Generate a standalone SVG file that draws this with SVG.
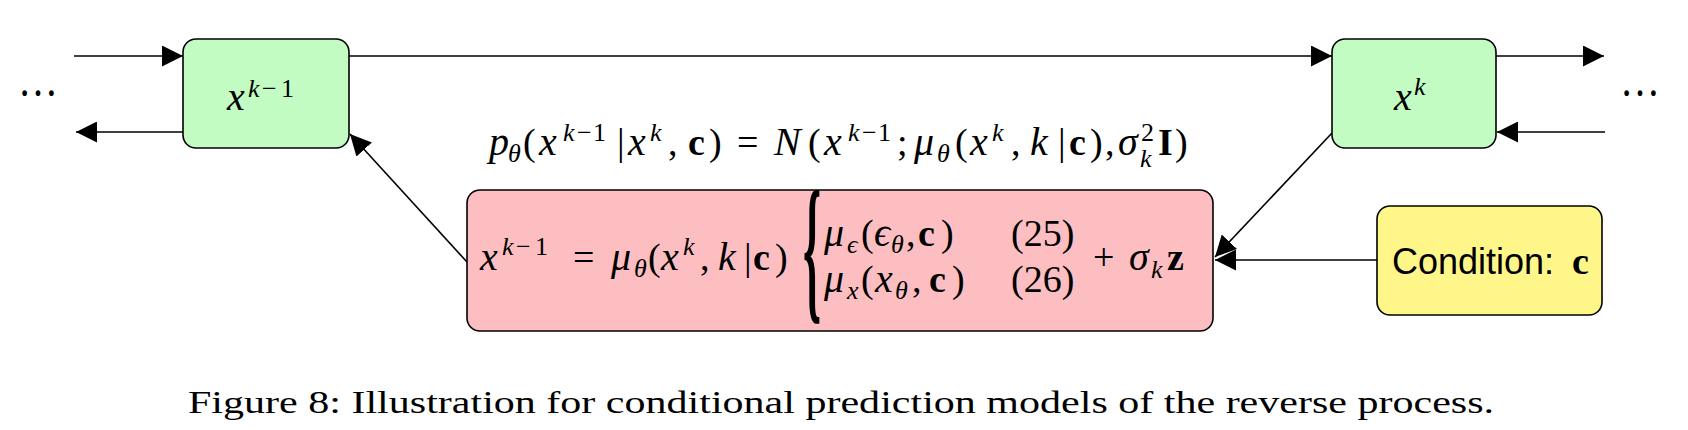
<svg xmlns="http://www.w3.org/2000/svg" width="1688" height="430" viewBox="0 0 1688 430">
<defs>
<marker id="ah" markerUnits="userSpaceOnUse" markerWidth="21" markerHeight="21" viewBox="0 0 21 21" refX="21" refY="10.5" orient="auto">
<path d="M0,0 L21,10.5 L0,21 Z" fill="#000"/>
</marker>
<style>
.box{stroke:#000;stroke-width:1.6}
.g{fill:#c2fcc2}
.p{fill:#fdbec2}
.y{fill:#fff68a}
.c line{stroke:#000;stroke-width:1.6;marker-end:url(#ah)}
text{fill:#000}
.m{font-family:"Liberation Serif","DejaVu Serif",serif;font-style:italic;font-size:40px}
.r{font-style:normal;font-size:38px}
.b{font-style:normal;font-weight:bold;font-size:38px}
.s{font-size:26px}
.sans{font-family:"Liberation Sans",Arial,sans-serif;font-size:36px}
.cap{font-family:"Liberation Serif",serif;font-size:32px}
</style>
</defs>
<rect width="1688" height="430" fill="#fff"/>

<g id="connectors" class="c">
<line x1="74" y1="56" x2="183" y2="56"/>
<line x1="183" y1="132" x2="76" y2="132"/>
<line x1="349" y1="56" x2="1332" y2="56"/>
<line x1="1496" y1="56" x2="1604" y2="56"/>
<line x1="1605" y1="132" x2="1497" y2="132"/>
<line x1="467" y1="262" x2="350" y2="134"/>
<line x1="1332" y1="133" x2="1215" y2="257"/>
<line x1="1377" y1="260" x2="1215" y2="260"/>
</g>

<g id="dots-left"><text class="m r" x="18" y="96" style="font-size:48px" textLength="40" lengthAdjust="spacingAndGlyphs">…</text></g>
<g id="dots-right"><text class="m r" x="1620" y="96" style="font-size:48px" textLength="40" lengthAdjust="spacingAndGlyphs">…</text></g>

<g id="node-xk1">
<rect class="box g" x="183" y="39" width="166" height="109" rx="13"/>
<text class="m"><tspan x="227" y="110">x</tspan><tspan class="s" x="248" y="97">k</tspan><tspan class="s r" x="262" y="97">−</tspan><tspan class="s r" x="281" y="97">1</tspan></text>
</g>

<g id="node-xk">
<rect class="box g" x="1332" y="39" width="164" height="109" rx="13"/>
<text class="m"><tspan x="1394" y="110">x</tspan><tspan class="s" x="1414" y="95">k</tspan></text>
</g>

<g id="label-p">
<text class="m"><tspan x="489" y="155">p</tspan><tspan class="s" x="508" y="162">θ</tspan><tspan class="r" x="523" y="155">(</tspan><tspan x="539" y="155">x</tspan><tspan class="s" x="563" y="141">k</tspan><tspan class="s r" x="577" y="141">−</tspan><tspan class="s r" x="593" y="141">1</tspan><tspan class="r" x="617" y="155">|</tspan><tspan x="628" y="155">x</tspan><tspan class="s" x="650" y="141">k</tspan><tspan class="r" x="668" y="155">,</tspan><tspan class="b" x="688" y="155">c</tspan><tspan class="r" x="709" y="155">)</tspan><tspan class="r" x="737" y="155">=</tspan><tspan x="774" y="155">N</tspan><tspan class="r" x="808" y="155">(</tspan><tspan x="824" y="155">x</tspan><tspan class="s" x="848" y="141">k</tspan><tspan class="s r" x="862" y="141">−</tspan><tspan class="s r" x="878" y="141">1</tspan><tspan class="r" x="897" y="155">;</tspan><tspan x="914" y="155">μ</tspan><tspan class="s" x="937" y="162">θ</tspan><tspan class="r" x="955" y="155">(</tspan><tspan x="970" y="155">x</tspan><tspan class="s" x="992" y="141">k</tspan><tspan class="r" x="1011" y="155">,</tspan><tspan x="1030" y="155">k</tspan><tspan class="r" x="1058" y="155">|</tspan><tspan class="b" x="1069" y="155">c</tspan><tspan class="r" x="1090" y="155">)</tspan><tspan class="r" x="1105" y="155">,</tspan><tspan x="1118" y="155">σ</tspan><tspan class="s r" x="1141" y="141">2</tspan><tspan class="s" x="1140" y="167">k</tspan><tspan class="b" x="1158" y="155">I</tspan><tspan class="r" x="1175" y="155">)</tspan></text>
</g>

<g id="node-update">
<rect class="box p" x="467" y="190" width="746" height="141" rx="13"/>
<text class="m"><tspan x="480" y="270">x</tspan><tspan class="s" x="502" y="255">k</tspan><tspan class="s r" x="516" y="255">−</tspan><tspan class="s r" x="535" y="255">1</tspan><tspan class="r" x="573" y="270">=</tspan><tspan x="611" y="270">μ</tspan><tspan class="s" x="634" y="277">θ</tspan><tspan class="r" x="648" y="270">(</tspan><tspan x="661" y="270">x</tspan><tspan class="s" x="683" y="255">k</tspan><tspan class="r" x="700" y="270">,</tspan><tspan x="718" y="270">k</tspan><tspan class="r" x="744" y="270">|</tspan><tspan class="b" x="753" y="270">c</tspan><tspan class="r" x="775" y="270">)</tspan></text>
<text class="m b" transform="translate(803,302) scale(1,3.5)" style="font-size:46px">{</text>
<text class="m"><tspan x="824" y="246">μ</tspan><tspan class="s" x="847" y="253">ϵ</tspan><tspan class="r" x="861" y="246">(</tspan><tspan x="874" y="246">ϵ</tspan><tspan class="s" x="891" y="253">θ</tspan><tspan class="r" x="906" y="246">,</tspan><tspan class="b" x="918" y="246">c</tspan><tspan class="r" x="941" y="246">)</tspan><tspan class="r" x="1011" y="246">(25)</tspan></text>
<text class="m"><tspan x="824" y="292">μ</tspan><tspan class="s" x="847" y="299">x</tspan><tspan class="r" x="861" y="292">(</tspan><tspan x="875" y="292">x</tspan><tspan class="s" x="895" y="299">θ</tspan><tspan class="r" x="912" y="292">,</tspan><tspan class="b" x="929" y="292">c</tspan><tspan class="r" x="952" y="292">)</tspan><tspan class="r" x="1011" y="292">(26)</tspan></text>
<text class="m"><tspan class="r" x="1093" y="270">+</tspan><tspan x="1129" y="270">σ</tspan><tspan class="s" x="1151" y="278">k</tspan><tspan class="b" x="1167" y="270">z</tspan></text>
</g>

<g id="node-condition">
<rect class="box y" x="1377" y="206" width="225" height="109" rx="13"/>
<text x="1392" y="274"><tspan class="sans">Condition: </tspan><tspan class="m b" x="1572">c</tspan></text>
</g>

<g id="caption">
<text class="cap" x="188" y="413" textLength="1306" lengthAdjust="spacingAndGlyphs">Figure 8: Illustration for conditional prediction models of the reverse process.</text>
</g>
</svg>
